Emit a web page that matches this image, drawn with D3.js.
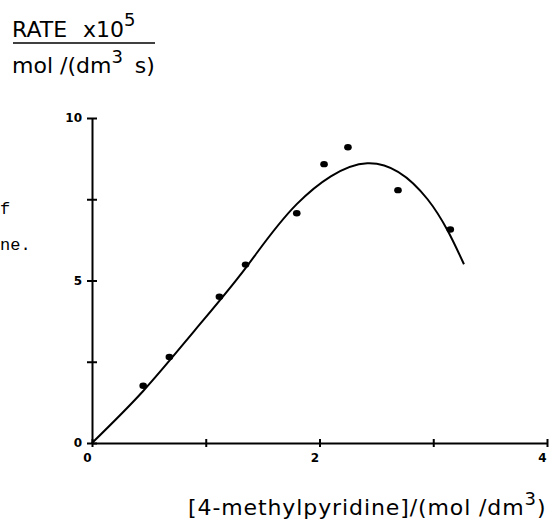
<!DOCTYPE html>
<html>
<head>
<meta charset="utf-8">
<script src="https://cdn.jsdelivr.net/npm/d3@7"></script>
<style>
  body { margin: 0; background: #fff; }
  svg { display: block; }
</style>
</head>
<body>
<svg width="559" height="523"></svg>
<script>
// measured points: [4-methylpyridine] vs rate x 10^5
const concentration = [0.45, 0.68, 1.12, 1.35, 1.80, 2.04, 2.25, 2.69, 3.15]
const rate = [1.76, 2.65, 4.5, 5.49, 7.07, 8.58, 9.1, 7.78, 6.57]

// fitted curve
const curveX = [0, 0.45, 0.9, 1.35, 1.8, 2.42, 2.95, 3.27]
const curveY = [0, 1.6, 3.45, 5.38, 7.35, 8.61, 7.5, 5.5]

const xTicks = [0, 1, 2, 3, 4]
const xTickLabels = ['0', '', '2', '', '4']
const yTicks = [0, 2.5, 5, 7.5, 10]
const yTickLabels = ['0', '', '5', '', '10']

const svg = d3.select('svg')

const x = d3.scaleLinear().domain([0, 4]).range([92, 547])
const y = d3.scaleLinear().domain([0, 10]).range([443, 118])

// Ejes
const xAxis = d3.axisBottom(x)
    .tickValues(xTicks)
    .tickFormat((d, i) => xTickLabels[i])
    .tickSizeOuter(0)

const gx = svg.append('g')
    .attr('transform', `translate(0, ${y(0)})`)
    .call(xAxis)
gx.select('.domain').attr('stroke', '#000').attr('stroke-width', 2)
gx.selectAll('.tick line').attr('y1', -4).attr('y2', 4).attr('stroke-width', 2)
gx.selectAll('.tick text')
    .attr('y', 10)
    .attr('dx', -5)
    .attr('font-family', 'DejaVu Sans, sans-serif')
    .attr('font-weight', 'bold')
    .attr('font-size', '12px')
    .attr('fill', '#000')

const yAxis = d3.axisLeft(y)
    .tickValues(yTicks)
    .tickFormat((d, i) => yTickLabels[i])
    .tickSizeOuter(0)

const gy = svg.append('g')
    .attr('transform', `translate(${x(0)}, 0)`)
    .call(yAxis)
gy.select('.domain').attr('stroke', '#000').attr('stroke-width', 2)
gy.selectAll('.tick line').attr('x1', -5).attr('x2', 5).attr('stroke-width', 2)
gy.selectAll('.tick text')
    .attr('x', -10)
    .attr('font-family', 'DejaVu Sans, sans-serif')
    .attr('font-weight', 'bold')
    .attr('font-size', '12px')
    .attr('fill', '#000')

// Curva
const line = d3.line()
    .x(d => x(d[0]))
    .y(d => y(d[1]))
    .curve(d3.curveNatural)

svg.append('path')
    .datum(curveX.map((v, i) => [v, curveY[i]]))
    .attr('d', line)
    .attr('fill', 'none')
    .attr('stroke', '#000')
    .attr('stroke-width', 2)

// Puntos
svg.selectAll('.dot')
    .data(concentration.map((v, i) => [v, rate[i]]))
    .join('ellipse')
    .attr('class', 'dot')
    .attr('cx', d => x(d[0]))
    .attr('cy', d => y(d[1]))
    .attr('rx', 3.8)
    .attr('ry', 3.2)
    .attr('fill', '#000')

// Titulo del eje y (fraccion)
const ylab = svg.append('g')
    .attr('font-family', 'DejaVu Sans, sans-serif')
    .attr('font-size', '22px')
    .attr('fill', '#000')

const numerador = ylab.append('text').attr('x', 12).attr('y', 37)
numerador.append('tspan').text('RATE')
numerador.append('tspan').text('x10').attr('dx', 16)
numerador.append('tspan').text('5').attr('dy', -11).attr('font-size', '18px')

ylab.append('line')
    .attr('x1', 13).attr('x2', 155)
    .attr('y1', 43).attr('y2', 43)
    .attr('stroke', '#000')
    .attr('stroke-width', 1.5)

const denominador = ylab.append('text').attr('x', 12).attr('y', 73)
denominador.append('tspan').text('mol /(dm')
denominador.append('tspan').text('3').attr('dy', -10).attr('font-size', '18px')
denominador.append('tspan').text('s)').attr('dy', 10).attr('dx', 12)

// Titulo del eje x
const xlab = svg.append('text')
    .attr('x', 188)
    .attr('y', 515)
    .attr('font-family', 'DejaVu Sans, sans-serif')
    .attr('font-size', '22px')
    .attr('letter-spacing', '0.9px')
    .attr('fill', '#000')
xlab.append('tspan').text('[4-methylpyridine]/(mol /dm')
xlab.append('tspan').text('3').attr('dy', -10).attr('font-size', '18px')
xlab.append('tspan').text(')').attr('dy', 10)

// Fragmentos de texto a la izquierda
svg.append('text')
    .attr('x', 0).attr('y', 214)
    .text('f')
    .attr('font-family', 'Courier New, Liberation Mono, monospace')
    .attr('font-size', '17px')
    .attr('fill', '#000')

svg.append('text')
    .attr('x', 0).attr('y', 250)
    .text('ne.')
    .attr('font-family', 'Courier New, Liberation Mono, monospace')
    .attr('font-size', '17px')
    .attr('fill', '#000')
</script>
</body>
</html>
